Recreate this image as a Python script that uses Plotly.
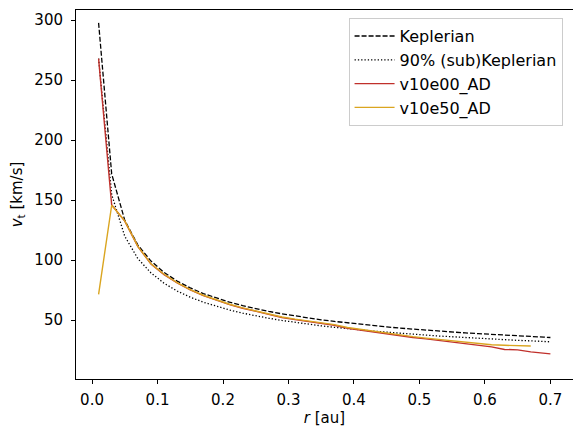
import plotly.graph_objects as go

# radius grid [au]
r = [0.01, 0.03, 0.05, 0.07, 0.09, 0.11, 0.13, 0.15, 0.17, 0.19,
     0.21, 0.23, 0.25, 0.27, 0.29, 0.31, 0.33, 0.35, 0.37, 0.39,
     0.41, 0.43, 0.45, 0.47, 0.49, 0.51, 0.53, 0.55, 0.57, 0.59,
     0.61, 0.63, 0.65, 0.67, 0.69, 0.70]

# tangential velocities [km/s]
v_kep = [297.8, 171.9, 133.2, 112.6, 99.3, 89.8, 82.6, 76.9, 72.2, 68.3,
         65.0, 62.1, 59.6, 57.3, 55.3, 53.5, 51.8, 50.3, 49.0, 47.7,
         46.5, 45.4, 44.4, 43.4, 42.5, 41.7, 40.9, 40.2, 39.4, 38.8,
         38.1, 37.5, 36.9, 36.4, 35.9, 35.6]
v_sub = [268.0, 154.7, 119.9, 101.3, 89.4, 80.8, 74.3, 69.2, 65.0, 61.5,
         58.5, 55.9, 53.6, 51.6, 49.8, 48.2, 46.6, 45.3, 44.1, 42.9,
         41.9, 40.9, 40.0, 39.1, 38.3, 37.5, 36.8, 36.2, 35.5, 34.9,
         34.3, 33.8, 33.2, 32.8, 32.3, 32.0]
v_e00 = [268.0, 146.0, 132.6, 111.3, 96.8, 88.0, 81.0, 75.2, 70.5, 66.5,
         63.0, 60.0, 57.3, 54.7, 52.3, 50.5, 49.0, 47.7, 45.8, 43.3,
         41.7, 39.8, 38.4, 37.0, 35.6, 34.4, 33.2, 32.0, 30.5, 29.1,
         27.8, 25.6, 25.3, 23.6, 22.3, 21.9]
r_e50 = r[:34]
v_e50 = [71.5, 145.8, 132.8, 111.5, 97.0, 88.3, 81.3, 75.5, 70.8, 66.8,
         63.3, 60.3, 57.6, 55.0, 52.7, 50.9, 49.3, 48.0, 46.3, 43.9,
         42.3, 40.5, 39.1, 37.7, 36.3, 35.1, 34.0, 33.0, 31.8, 30.5,
         29.6, 29.1, 28.8, 28.5]

font = "DejaVu Sans, Liberation Sans, sans-serif"
fs = 15

fig = go.Figure()
fig.add_trace(go.Scatter(x=r, y=v_kep, mode="lines", name="Keplerian",
                         line=dict(color="black", width=1.3, dash="5px,2px")))
fig.add_trace(go.Scatter(x=r, y=v_sub, mode="lines", name="90% (sub)Keplerian",
                         line=dict(color="black", width=1.3, dash="1.3px,2px")))
fig.add_trace(go.Scatter(x=r, y=v_e00, mode="lines", name="v10e00_AD",
                         line=dict(color="#c0302b", width=1.4)))
fig.add_trace(go.Scatter(x=r_e50, y=v_e50, mode="lines", name="v10e50_AD",
                         line=dict(color="#daa520", width=1.4)))

axis_style = dict(showline=True, linecolor="black", linewidth=1, mirror=True,
                  ticks="outside", ticklen=4, tickcolor="black", showgrid=False,
                  zeroline=False, tickfont=dict(size=fs, color="black"))

fig.update_xaxes(range=[-0.0245, 0.7345], dtick=0.1, tickformat=".1f",
                 ticklabelstandoff=3,
                 title=dict(text="<i>r</i> [au]", font=dict(size=fs), standoff=3),
                 **axis_style)
fig.update_yaxes(range=[1, 308.5], tickvals=[50, 100, 150, 200, 250, 300],
                 ticklabelstandoff=5,
                 title=dict(text="<i>v</i><sub>t</sub> [km/s]", font=dict(size=fs), standoff=11),
                 **axis_style)

# the page body adds an 8px offset, so the figure is 8px smaller than the window
fig.update_layout(
    width=573, height=429,
    margin=dict(l=68, r=8, t=2, b=58),
    plot_bgcolor="white", paper_bgcolor="white",
    font=dict(family=font, size=fs, color="black"),
    legend=dict(x=0.979, y=0.978, xanchor="right", yanchor="top",
                bgcolor="rgba(255,255,255,0.8)", bordercolor="#cccccc", borderwidth=1,
                font=dict(size=16), tracegroupgap=0, itemwidth=40),
    showlegend=True,
)

fig.write_html("out.html")
